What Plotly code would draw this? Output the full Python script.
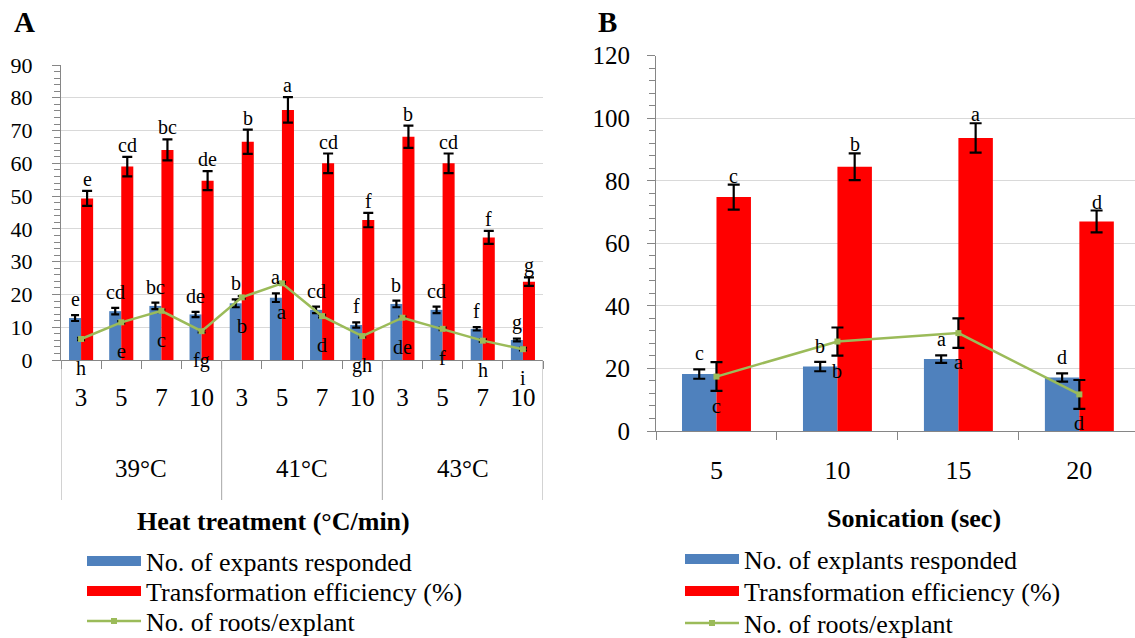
import plotly.graph_objects as go

# ---------------- data: panel A (heat treatment) ----------------
heat_groups = ["39°C", "41°C", "43°C"]
heat_minutes = ["3", "5", "7", "10"]
a_responded = [12.8, 14.9, 16.5, 13.9, 17.3, 19.0, 15.3, 10.7, 17.1, 15.3, 9.5, 6.1]
a_responded_err = [0.9, 1.0, 1.0, 0.8, 1.2, 1.3, 1.0, 0.8, 1.0, 1.0, 0.5, 0.4]
a_efficiency = [49.3, 59.0, 64.1, 54.7, 66.6, 76.3, 60.0, 42.7, 68.1, 60.0, 37.4, 23.9]
a_efficiency_err = [2.3, 3.0, 3.2, 2.9, 3.7, 3.9, 3.0, 2.2, 3.4, 3.0, 2.0, 1.3]
a_roots = [6.4, 11.5, 15.0, 8.8, 19.1, 23.4, 13.4, 7.3, 12.9, 9.5, 5.9, 3.3]
a_roots_err = [0.4] * 12
a_responded_letters = ["e", "cd", "bc", "de", "b", "a", "cd", "f", "b", "cd", "f", "g"]
a_efficiency_letters = ["e", "cd", "bc", "de", "b", "a", "cd", "f", "b", "cd", "f", "g"]
a_roots_letters = ["h", "e", "c", "fg", "b", "a", "d", "gh", "de", "f", "h", "i"]
a_series_names = ["No. of expants responded", "Transformation efficiency (%)", "No. of roots/explant"]

# ---------------- data: panel B (sonication) ----------------
sonication_sec = ["5", "10", "15", "20"]
b_responded = [18.2, 20.6, 23.0, 17.1]
b_responded_err = [1.5, 1.5, 1.2, 1.3]
b_efficiency = [74.8, 84.5, 93.7, 67.0]
b_efficiency_err = [4.0, 4.3, 4.7, 3.5]
b_roots = [17.4, 28.6, 31.3, 11.7]
b_roots_err = [4.6, 4.5, 4.7, 4.6]
b_responded_letters = ["c", "b", "a", "d"]
b_efficiency_letters = ["c", "b", "a", "d"]
b_roots_letters = ["c", "b", "a", "d"]
b_series_names = ["No. of explants responded", "Transformation efficiency (%)", "No. of roots/explant"]

# ---------------- style ----------------
FONT = "Liberation Serif, Times New Roman, serif"
BLUE = "#4f81bd"
RED = "#ff0000"
GREEN = "#9bbb59"
AXIS = "#868686"
GRID = "#d9d9d9"
W, H = 1135, 638


def px_x(p):
    return p / W


def px_y(p):
    return 1 - p / H


fig = go.Figure()

# ---------- panel A ----------
n_a = len(heat_groups) * len(heat_minutes)
xa = list(range(n_a))
a_ticktext = heat_minutes * len(heat_groups)
bw_a = 0.3

fig.add_trace(go.Bar(
    x=xa, y=a_responded, width=bw_a, offset=-bw_a, marker=dict(color=BLUE, line_width=0),
    error_y=dict(type="data", array=a_responded_err, color="black", thickness=2.2, width=4),
    name=a_series_names[0], showlegend=False, xaxis="x", yaxis="y"))
fig.add_trace(go.Bar(
    x=xa, y=a_efficiency, width=bw_a, offset=0, marker=dict(color=RED, line_width=0),
    error_y=dict(type="data", array=a_efficiency_err, color="black", thickness=2.2, width=5),
    name=a_series_names[1], showlegend=False, xaxis="x", yaxis="y"))
fig.add_trace(go.Scatter(
    x=xa, y=a_roots, mode="lines+markers",
    line=dict(color=GREEN, width=2.5), marker=dict(symbol="square", size=6, color=GREEN),
    error_y=dict(type="data", array=a_roots_err, color="black", thickness=2, width=4),
    name=a_series_names[2], showlegend=False, xaxis="x", yaxis="y"))

# ---------- panel B ----------
xb = list(range(len(sonication_sec)))
bw_b = 0.285
fig.add_trace(go.Bar(
    x=xb, y=b_responded, width=bw_b, offset=-bw_b, marker=dict(color=BLUE, line_width=0),
    error_y=dict(type="data", array=b_responded_err, color="black", thickness=2.2, width=6),
    name=b_series_names[0], showlegend=False, xaxis="x2", yaxis="y2"))
fig.add_trace(go.Bar(
    x=xb, y=b_efficiency, width=bw_b, offset=0, marker=dict(color=RED, line_width=0),
    error_y=dict(type="data", array=b_efficiency_err, color="black", thickness=2.2, width=6),
    name=b_series_names[1], showlegend=False, xaxis="x2", yaxis="y2"))
fig.add_trace(go.Scatter(
    x=xb, y=b_roots, mode="lines+markers",
    line=dict(color=GREEN, width=2.5), marker=dict(symbol="square", size=6, color=GREEN),
    error_y=dict(type="data", array=b_roots_err, color="black", thickness=2.2, width=6),
    name=b_series_names[2], showlegend=False, xaxis="x2", yaxis="y2"))

# ---------- legend entries (one legend per row, Excel-like wide swatches) ----------
legend_layout = {}
legend_rows_a = [561, 591, 621]
legend_rows_b = [559, 591, 623]
colors = [BLUE, RED, GREEN]
idx = 1
for names, rows, x0, xax, yax in [(a_series_names, legend_rows_a, 82, "x", "y"),
                                  (b_series_names, legend_rows_b, 680, "x2", "y2")]:
    for k, (nm, row, col) in enumerate(zip(names, rows, colors)):
        key = "legend" if idx == 1 else f"legend{idx}"
        if k < 2:
            tr = go.Scatter(x=[None], y=[None], mode="lines", line=dict(color=col, width=11),
                            name=nm, legend=key, xaxis=xax, yaxis=yax, hoverinfo="skip")
        else:
            tr = go.Scatter(x=[None], y=[None], mode="lines+markers", line=dict(color=col, width=2.5),
                            marker=dict(symbol="square", size=6, color=col),
                            name=nm, legend=key, xaxis=xax, yaxis=yax, hoverinfo="skip")
        fig.add_trace(tr)
        legend_layout[key] = dict(x=px_x(x0), y=px_y(row), xanchor="left", yanchor="middle",
                                  bgcolor="rgba(0,0,0,0)", font=dict(family=FONT, size=26, color="black"),
                                  itemwidth=54, borderwidth=0)
        idx += 1

annotations = []
LET = dict(family=FONT, size=20, color="black")


def letters(xs, ys, errs, labels, dx, shift, xref, yref):
    for x, y, e, t in zip(xs, ys, errs, labels):
        annotations.append(dict(x=x + dx, y=y + e, text=t, showarrow=False, xref=xref, yref=yref,
                                yshift=shift, yanchor="middle", xanchor="center", font=LET))


letters(xa, a_responded, a_responded_err, a_responded_letters, -bw_a / 2, 16, "x", "y")
letters(xa, a_efficiency, a_efficiency_err, a_efficiency_letters, bw_a / 2, 12, "x", "y")
letters(xa, a_roots, [0] * n_a, a_roots_letters, 0, -29, "x", "y")
letters(xb, b_responded, b_responded_err, b_responded_letters, -bw_b / 2, 16, "x2", "y2")
letters(xb, b_efficiency, b_efficiency_err, b_efficiency_letters, bw_b / 2, 9, "x2", "y2")
letters(xb, b_roots, [0] * len(xb), b_roots_letters, 0, -29, "x2", "y2")

# group labels and dividers for panel A
shapes = []
per = len(heat_minutes)
for gi, g in enumerate(heat_groups):
    annotations.append(dict(x=gi * per + (per - 1) / 2, y=px_y(468), xref="x", yref="paper",
                            text=g, showarrow=False, yanchor="middle", xanchor="center",
                            font=dict(family=FONT, size=25, color="black")))
for gi in range(len(heat_groups) + 1):
    shapes.append(dict(type="line", xref="x", yref="paper", x0=gi * per - 0.5, x1=gi * per - 0.5,
                       y0=px_y(360), y1=px_y(500), line=dict(color="#a6a6a6", width=1)))

# axis titles and panel letters
annotations += [
    dict(x=px_x(273), y=px_y(521), xref="paper", yref="paper", showarrow=False, yanchor="middle",
         xanchor="center", text="<b>Heat treatment (°C/min)</b>",
         font=dict(family=FONT, size=26, color="black")),
    dict(x=px_x(914), y=px_y(518), xref="paper", yref="paper", showarrow=False, yanchor="middle",
         xanchor="center", text="<b>Sonication (sec)</b>", font=dict(family=FONT, size=26, color="black")),
    dict(x=px_x(12), y=px_y(22), xref="paper", yref="paper", showarrow=False, xanchor="left",
         yanchor="middle", text="<b>A</b>", font=dict(family=FONT, size=29, color="black")),
    dict(x=px_x(596), y=px_y(22), xref="paper", yref="paper", showarrow=False, xanchor="left",
         yanchor="middle", text="<b>B</b>", font=dict(family=FONT, size=29, color="black")),
]

ycommon = dict(showgrid=True, gridcolor=GRID, gridwidth=1, showline=True, linecolor=AXIS, linewidth=1,
               ticks="outside", ticklen=8, tickcolor=AXIS, zeroline=False)
xcommon = dict(showgrid=False, showline=True, linecolor=AXIS, linewidth=1, ticks="", zeroline=False,
               tickmode="array")

fig.update_layout(
    width=W, height=H, margin=dict(l=0, r=0, t=0, b=0, autoexpand=False),
    paper_bgcolor="white", plot_bgcolor="white",
    font=dict(family=FONT, color="black"),
    barmode="overlay", showlegend=True,
    xaxis=dict(domain=[px_x(61), px_x(543)], range=[-0.5, n_a - 0.5], anchor="y",
               tickvals=xa, ticktext=a_ticktext, tickfont=dict(family=FONT, size=25), ticklabelstandoff=15,
               minor=dict(tickmode="array", tickvals=[i - 0.5 for i in range(n_a + 1)],
                          ticks="outside", ticklen=8, tickcolor=AXIS, showgrid=False),
               **xcommon),
    yaxis=dict(domain=[px_y(360), px_y(65)], range=[0, 90], dtick=10, anchor="x",
               tickfont=dict(family=FONT, size=22), ticklabelstandoff=15,
               minor=dict(dtick=2, ticks="outside", ticklen=6, tickcolor=AXIS, showgrid=False),
               **ycommon),
    xaxis2=dict(domain=[px_x(656), 1.0], range=[-0.5, len(xb) - 0.54], anchor="y2",
                tickvals=xb, ticktext=sonication_sec, tickfont=dict(family=FONT, size=26),
                ticklabelstandoff=16,
                minor=dict(tickmode="array", tickvals=[i - 0.5 for i in range(len(xb) + 1)],
                           ticks="outside", ticklen=8, tickcolor=AXIS, showgrid=False),
                **xcommon),
    yaxis2=dict(domain=[px_y(431), px_y(55.7)], range=[0, 120], dtick=20, anchor="x2",
                tickfont=dict(family=FONT, size=25), ticklabelstandoff=12,
                minor=dict(dtick=4, ticks="outside", ticklen=6, tickcolor=AXIS, showgrid=False),
                **ycommon),
    annotations=annotations, shapes=shapes,
    **legend_layout,
)

fig.write_html("out.html", config={"displayModeBar": False},
               post_script="document.body.style.margin='0px';")
